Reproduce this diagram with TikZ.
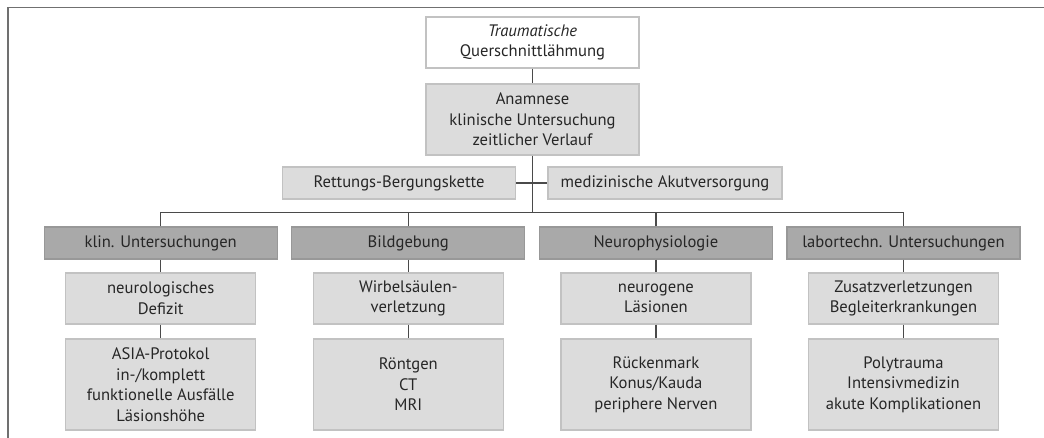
\documentclass[tikz,border=0pt]{standalone}
\usepackage{fontspec}
\setmainfont{PT Sans}
\usepackage{xcolor}
\usepackage{tikz}
\usetikzlibrary{calc,positioning}
\definecolor{linec}{HTML}{4A4A4A}
\definecolor{framec}{HTML}{707070}
\definecolor{lightbg}{HTML}{DCDCDC}
\definecolor{lightbd}{HTML}{C2C2C2}
\definecolor{darkbg}{HTML}{A9A9A9}
\definecolor{darkbd}{HTML}{989898}
\definecolor{txtc}{HTML}{262626}
\tikzset{
  ln/.style={linec,line width=1.2pt},
  base/.style={line width=1.2pt,align=center,inner sep=0pt,text=txtc,font=\fontsize{16.6}{20.6}\selectfont},
  topbox/.style={base,draw=lightbd,fill=white,minimum width=213pt,minimum height=51pt},
  graybox/.style={base,draw=lightbd,fill=lightbg},
  catbox/.style={base,draw=darkbd,fill=darkbg,minimum width=233pt,minimum height=32pt},
  subbox/.style={graybox,minimum width=190pt,minimum height=51pt},
  botbox/.style={graybox,minimum width=190pt,minimum height=91pt}
}
\begin{document}
\begin{tikzpicture}[x=1pt,y=-1pt]
\useasboundingbox (0,0) rectangle (1044,438);
\draw[framec,line width=1.5pt] (8,438)--(8,7.3)--(1044,7.3);
% kopf
\node[topbox] (trauma) at (532.5,42.5) {\textit{Traumatische}\\Querschnittlähmung};
\node[graybox,minimum width=213pt,minimum height=71pt] (anam) at (532.5,119.5)
  {Anamnese\\klinische Untersuchung\\zeitlicher Verlauf};
\node[graybox,minimum width=233pt,minimum height=32pt] (rett) at (399,183) {Rettungs-Bergungskette};
\node[graybox,minimum width=234pt,minimum height=32pt] (akut) at (665,183) {medizinische Akutversorgung};
\coordinate (hub) at (532.5,212.3);
% spalten
\node[catbox] (klin) at (160.7,243) {klin. Untersuchungen};
\node[catbox] (bild) at (408.3,243) {Bildgebung};
\node[catbox] (neuro) at (655.9,243) {Neurophysiologie};
\node[catbox] (labor) at (903.5,243) {labortechn. Untersuchungen};
\node[subbox] (defizit) at (160.7,298.5) {neurologisches\\Defizit};
\node[subbox] (wirbel) at (408.3,298.5) {Wirbelsäulen-\\verletzung};
\node[subbox] (laesion) at (655.9,298.5) {neurogene\\Läsionen};
\node[subbox] (zusatz) at (903.5,298.5) {Zusatzverletzungen\\Begleiterkrankungen};
\node[botbox] (asia) at (160.7,384.5) {ASIA-Protokol\\in-/komplett\\funktionelle Ausfälle\\Läsionshöhe};
\node[botbox] (roent) at (408.3,384.5) {Röntgen\\CT\\MRI};
\node[botbox] (mark) at (655.9,384.5) {Rückenmark\\Konus/Kauda\\periphere Nerven};
\node[botbox] (poly) at (903.5,384.5) {Polytrauma\\Intensivmedizin\\akute Komplikationen};
% linien
\draw[ln] (trauma.south)--(anam.north);
\draw[ln] (anam.south)--(hub);
\draw[ln] (rett.east)--(akut.west);
\draw[ln] (klin.north)--(klin.north |- hub)--(labor.north |- hub)--(labor.north);
\draw[ln] (bild.north)--(bild.north |- hub);
\draw[ln] (neuro.north)--(neuro.north |- hub);
\draw[ln] (klin.south)--(defizit.north) (defizit.south)--(asia.north);
\draw[ln] (bild.south)--(wirbel.north) (wirbel.south)--(roent.north);
\draw[ln] (neuro.south)--(laesion.north) (laesion.south)--(mark.north);
\draw[ln] (labor.south)--(zusatz.north) (zusatz.south)--(poly.north);
\end{tikzpicture}
\end{document}
